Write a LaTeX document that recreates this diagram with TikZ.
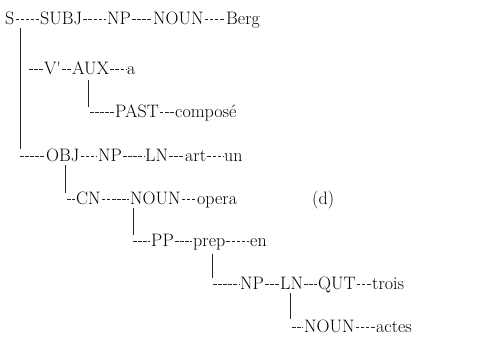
\documentclass[tikz,border=0pt]{standalone}
\usetikzlibrary{calc}
\begin{document}
\begin{tikzpicture}[x=1pt,y=-1pt,
  lbl/.style={inner sep=0pt,anchor=base west,font=\fontsize{18}{21}\selectfont},
  dsh/.style={line width=0.75pt,dash pattern=on 3.5pt off 1.6pt,black!85},
  vln/.style={line width=0.9pt,black!85}]
\useasboundingbox[fill=white] (0,0) rectangle (488,349);
% row 1
\node[lbl] (s) at (5,24) {S};
\node[lbl] (subj) at (40,24) {SUBJ};
\node[lbl] (np1) at (107,24) {NP};
\node[lbl] (noun1) at (153,24) {NOUN};
\node[lbl] (berg) at (226,24) {Berg};
% row 2
\coordinate (r2) at (29,69);
\node[lbl] (vp) at (44,74) {V\textquotesingle};
\node[lbl] (aux) at (72,74) {AUX};
\node[lbl] (a) at (127,74) {a};
% row 3
\coordinate (r3) at (90,112);
\node[lbl] (past) at (115,117) {PAST};
\node[lbl] (compose) at (175,117) {composé};
% row 4
\coordinate (r4) at (20,156);
\node[lbl] (obj) at (46,161) {OBJ};
\node[lbl] (np2) at (98,161) {NP};
\node[lbl] (ln1) at (145,161) {LN};
\node[lbl] (art) at (185,161) {art};
\node[lbl] (un) at (224,161) {un};
% row 5
\coordinate (r5) at (67,199);
\node[lbl] (cn) at (76,204) {CN};
\node[lbl] (noun2) at (130,204) {NOUN};
\node[lbl] (opera) at (197,204) {opera};
\node[lbl] (d) at (312,204) {(d)};
% row 6
\coordinate (r6) at (133,241);
\node[lbl] (pp) at (151,246) {PP};
\node[lbl] (prep) at (193,246) {prep};
\node[lbl] (en) at (250,246) {en};
% row 7
\coordinate (r7) at (213,284);
\node[lbl] (np3) at (240,289) {NP};
\node[lbl] (ln2) at (280,289) {LN};
\node[lbl] (qut) at (318,289) {QUT};
\node[lbl] (trois) at (372,289) {trois};
% row 8
\coordinate (r8) at (292,327);
\node[lbl] (noun3) at (304,332) {NOUN};
\node[lbl] (actes) at (376,332) {actes};
% vertical lines
\coordinate (v1) at (20,0); \coordinate (v2) at (88,0); \coordinate (v3) at (65,0);
\coordinate (v4) at (133,0); \coordinate (v5) at (212,0); \coordinate (v6) at (290,0);
\draw[vln] ($(s.south -| v1)+(0,4)$) -- ($(r4 -| v1)+(0,-7)$);
\draw[vln] ($(aux.south -| v2)+(0,6)$) -- ($(r3 -| v2)+(0,-5)$);
\draw[vln] ($(obj.south -| v3)+(0,4)$) -- ($(r5 -| v3)+(0,-6)$);
\draw[vln] ($(noun2.south -| v4)+(0,4)$) -- ($(r6 -| v4)+(0,-6)$);
\draw[vln] ($(prep.south -| v5)+(0,4)$) -- ($(r7 -| v5)+(0,-6)$);
\draw[vln] ($(ln2.south -| v6)+(0,4)$) -- ($(r8 -| v6)+(0,-8)$);
% dashed connectors
\foreach \p/\q in {s/subj,subj/np1,np1/noun1,noun1/berg,
  vp/aux,aux/a,past/compose,obj/np2,np2/ln1,ln1/art,art/un,
  cn/noun2,noun2/opera,pp/prep,prep/en,np3/ln2,ln2/qut,qut/trois,noun3/actes}
  \draw[dsh] ($(\p.base east)+(1,-5)$) -- ($(\q.base west)+(-1,-5)$);
\draw[dsh] (r2) -- ($(vp.base west)+(-1,-5)$);
\draw[dsh] (r3) -- ($(past.base west)+(-1,-5)$);
\draw[dsh] (r4) -- ($(obj.base west)+(-1,-5)$);
\draw[dsh] (r5) -- ($(cn.base west)+(-1,-5)$);
\draw[dsh] (r6) -- ($(pp.base west)+(-1,-5)$);
\draw[dsh] (r7) -- ($(np3.base west)+(-1,-5)$);
\draw[dsh] (r8) -- ($(noun3.base west)+(-1,-5)$);
\end{tikzpicture}
\end{document}
